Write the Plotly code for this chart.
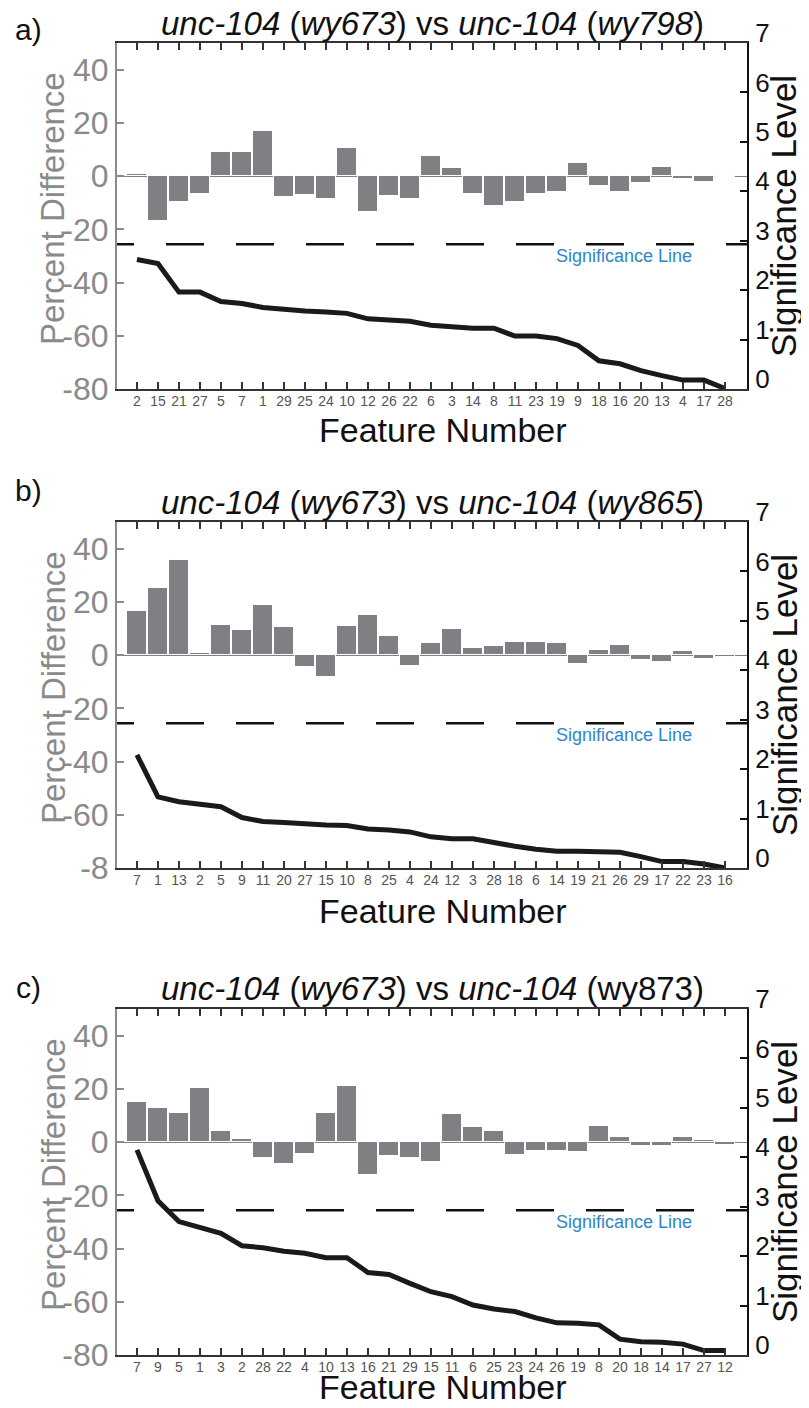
import plotly.graph_objects as go
from plotly.subplots import make_subplots

# ---------------- data ----------------
FEATURES_A = [2, 15, 21, 27, 5, 7, 1, 29, 25, 24, 10, 12, 26, 22, 6, 3, 14, 8, 11, 23, 19, 9, 18, 16, 20, 13, 4, 17, 28]
PCT_DIFF_A = [0.9, -17.0, -9.6, -6.9, 9.2, 8.9, 16.9, -7.7, -7.0, -8.7, 10.6, -13.4, -7.6, -8.7, 7.6, 2.9,
              -6.9, -11.1, -9.6, -6.7, -6.1, 4.9, -3.7, -6.1, -2.7, 3.4, -1.1, -2.1, -0.4]
SIG_A = [2.62, 2.54, 1.96, 1.96, 1.77, 1.73, 1.65, 1.61, 1.58, 1.56, 1.53, 1.42, 1.40, 1.37, 1.29, 1.25,
         1.23, 1.23, 1.07, 1.07, 1.02, 0.88, 0.57, 0.51, 0.37, 0.27, 0.18, 0.18, 0.01]

FEATURES_B = [7, 1, 13, 2, 5, 9, 11, 20, 27, 15, 10, 8, 25, 4, 24, 12, 3, 28, 18, 6, 14, 19, 21, 26, 29, 17, 22, 23, 16]
PCT_DIFF_B = [16.4, 25.1, 35.7, 0.9, 11.4, 9.4, 19.0, 10.4, -4.4, -8.4, 11.0, 14.9, 7.0, -4.1, 4.6, 9.9,
              2.6, 3.4, 5.1, 4.9, 4.5, -3.5, 2.0, 3.7, -1.7, -2.7, 1.6, -1.5, -0.7]
SIG_B = [2.29, 1.44, 1.34, 1.29, 1.24, 1.02, 0.94, 0.92, 0.89, 0.87, 0.86, 0.79, 0.77, 0.73, 0.63, 0.59,
         0.59, 0.51, 0.44, 0.38, 0.34, 0.34, 0.33, 0.32, 0.23, 0.13, 0.13, 0.08, 0.0]

FEATURES_C = [7, 9, 5, 1, 3, 2, 28, 22, 4, 10, 13, 16, 21, 29, 15, 11, 6, 25, 23, 24, 26, 19, 8, 20, 18, 14, 17, 27, 12]
PCT_DIFF_C = [15.2, 12.7, 11.1, 20.5, 4.0, 1.0, -6.0, -8.2, -4.5, 11.1, 21.2, -12.5, -5.4, -5.9, -7.6, 10.7,
              5.6, 4.0, -4.7, -3.2, -3.2, -3.7, 5.9, 1.9, -1.6, -1.6, 1.9, 0.9, -1.1]
SIG_C = [4.15, 3.12, 2.70, 2.58, 2.46, 2.21, 2.17, 2.10, 2.06, 1.97, 1.97, 1.67, 1.63, 1.45, 1.28, 1.18,
         1.01, 0.93, 0.88, 0.75, 0.65, 0.64, 0.61, 0.32, 0.27, 0.26, 0.22, 0.09, 0.09]

SIG_THRESHOLD = 2.93

PCT_TICKS = [-80, -60, -40, -20, 0, 20, 40]
PCT_TICKTEXT_A = ["-80", "-60", "-40", "-20", "0", "20", "40"]
PCT_TICKTEXT_B = ["-8", "-60", "-40", "-20", "0", "20", "40"]
PCT_TICKTEXT_C = ["-80", "-60", "-40", "-20", "0", "20", "40"]
SIG_TICKS = [0, 1, 2, 3, 4, 5, 6, 7]

TITLES = [
    "<i>unc-104</i> (<i>wy673</i>) vs <i>unc-104</i> (<i>wy798</i>)",
    "<i>unc-104</i> (<i>wy673</i>) vs <i>unc-104</i> (<i>wy865</i>)",
    "<i>unc-104</i> (<i>wy673</i>) vs <i>unc-104</i> (wy873)",
]
LETTERS = ["a)", "b)", "c)"]

X_RANGE = [0.05, 30.05]
PCT_RANGE = [-80, 50]
SIG_RANGE = [0, 7]

# ---------------- layout geometry (page pixels; the page body has an 8px margin) ----------------
OFF = 8
W, H = 809 - 2 * OFF, 1408 - 2 * OFF
FRAME_L, FRAME_R = 117, 747
TOPS = [43, 522, 1009]
BOTTOMS = [389, 868, 1355]
TITLE_Y = [23, 502, 989]
LETTER_Y = [30, 491, 988]
FN_Y = [430, 911, 1387]

ML = FRAME_L - OFF
MR = W - (FRAME_R - OFF)
MT = TOPS[0] - OFF
MB = H - (BOTTOMS[-1] - OFF)
PW, PH = W - ML - MR, H - MT - MB


def py(Y):
    return (H - MB - (Y - OFF)) / PH


def px(X):
    return (X - OFF - ML) / PW


FONT = "Liberation Sans, Arial, sans-serif"
GREY = "#8a8a8c"
BAR = "#7f8083"

panels = [
    (FEATURES_A, PCT_DIFF_A, SIG_A, PCT_TICKTEXT_A),
    (FEATURES_B, PCT_DIFF_B, SIG_B, PCT_TICKTEXT_B),
    (FEATURES_C, PCT_DIFF_C, SIG_C, PCT_TICKTEXT_C),
]

fig = make_subplots(rows=3, cols=1, specs=[[{"secondary_y": True}]] * 3)

annotations = []
for r, (labels, pct, sig, pct_tt) in enumerate(panels, start=1):
    pos = list(range(1, len(labels) + 1))
    fig.add_trace(go.Bar(x=pos, y=pct, width=0.96,
                         marker=dict(color=BAR, line=dict(color="white", width=1)),
                         showlegend=False, hoverinfo="skip"),
                  row=r, col=1, secondary_y=False)
    # significance threshold (dashed), starts one slot left of the axis so the dash phase matches
    fig.add_trace(go.Scatter(x=[X_RANGE[0] - 1, X_RANGE[1] + 1], y=[SIG_THRESHOLD, SIG_THRESHOLD],
                             mode="lines", line=dict(color="#111", width=2.5, dash="38px,32px"),
                             showlegend=False, hoverinfo="skip"),
                  row=r, col=1, secondary_y=True)
    fig.add_trace(go.Scatter(x=pos, y=sig, mode="lines",
                             line=dict(color="#1a1a1a", width=5),
                             showlegend=False, hoverinfo="skip"),
                  row=r, col=1, secondary_y=True)

    fig.update_xaxes(domain=[0, 1], range=X_RANGE, tickmode="array", tickvals=pos,
                     ticktext=[str(v) for v in labels],
                     ticks="inside", ticklen=7, tickwidth=1.5, tickcolor="#333",
                     showline=True, linecolor="#333", linewidth=2, mirror="ticks",
                     ticklabelstandoff=-2,
                     tickfont=dict(family=FONT, size=14, color="#555"),
                     showgrid=False, zeroline=False, row=r, col=1)
    fig.update_yaxes(range=PCT_RANGE, tickmode="array", tickvals=PCT_TICKS, ticktext=pct_tt,
                     ticks="inside", ticklen=7, tickwidth=1.5, tickcolor=GREY,
                     showline=True, linecolor=GREY, linewidth=2,
                     tickfont=dict(family=FONT, size=32, color=GREY),
                     showgrid=False, zeroline=True, zerolinecolor=BAR, zerolinewidth=1,
                     row=r, col=1, secondary_y=False)
    fig.update_yaxes(range=SIG_RANGE, tickmode="array", tickvals=SIG_TICKS,
                     ticks="inside", ticklen=7, tickwidth=1.5, tickcolor="#111",
                     showline=True, linecolor="#111", linewidth=2,
                     ticklabelshift=-10, ticklabelstandoff=1,
                     tickfont=dict(family=FONT, size=26, color="#111"),
                     showgrid=False, zeroline=False,
                     row=r, col=1, secondary_y=True)

    top, bot = TOPS[r - 1], BOTTOMS[r - 1]
    yname = "yaxis" if r == 1 else f"yaxis{2 * r - 1}"
    fig.layout[yname].domain = [py(bot), py(top)]

    y2ref = f"y{2 * r}"
    annotations.append(dict(xref="paper", yref=y2ref, x=px(624), y=SIG_THRESHOLD - 0.23,
                            xanchor="center", yanchor="middle",
                            text="Significance Line", showarrow=False,
                            font=dict(family=FONT, size=18, color="#2f86c8")))
    annotations.append(dict(xref="paper", yref="paper", x=px((FRAME_L + FRAME_R) / 2), y=py(TITLE_Y[r - 1]),
                            xanchor="center", yanchor="middle",
                            text=TITLES[r - 1], showarrow=False,
                            font=dict(family=FONT, size=33, color="#111")))
    annotations.append(dict(xref="paper", yref="paper", x=px(28), y=py(LETTER_Y[r - 1]),
                            xanchor="center", yanchor="middle",
                            text=LETTERS[r - 1], showarrow=False,
                            font=dict(family=FONT, size=30, color="#111")))
    annotations.append(dict(xref="paper", yref="paper", x=px(53), y=py(top + 166),
                            xanchor="center", yanchor="middle",
                            text="Percent Difference", textangle=-90, showarrow=False,
                            font=dict(family=FONT, size=33, color=GREY)))
    annotations.append(dict(xref="paper", yref="paper", x=px(784), y=py(top + 173),
                            xanchor="center", yanchor="middle",
                            text="Significance Level", textangle=-90, showarrow=False,
                            font=dict(family=FONT, size=35, color="#111")))
    annotations.append(dict(xref="paper", yref="paper", x=px(443), y=py(FN_Y[r - 1]),
                            xanchor="center", yanchor="middle",
                            text="Feature Number", showarrow=False,
                            font=dict(family=FONT, size=34, color="#111")))

fig.update_layout(width=W, height=H, margin=dict(l=ML, r=MR, t=MT, b=MB, autoexpand=False),
                  plot_bgcolor="white", paper_bgcolor="white",
                  bargap=0, barmode="overlay",
                  annotations=annotations,
                  font=dict(family=FONT))

fig.write_html("out.html")
